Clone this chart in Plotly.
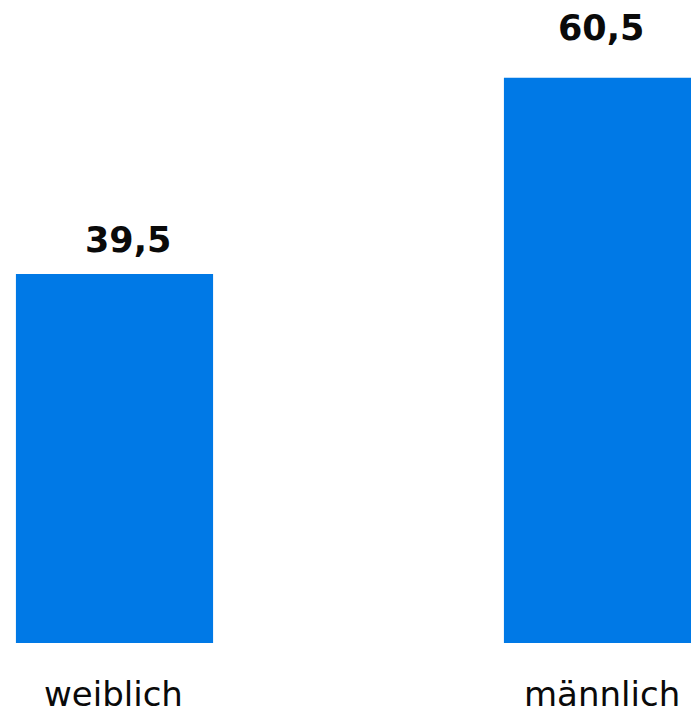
import plotly.graph_objects as go

categories = ["weiblich", "männlich"]
values = [39.5, 60.5]
value_labels = ["39,5", "60,5"]

BAR_COLOR = "#0079E6"
PX_PER_UNIT = 369 / 39.5
PLOT_H = 643

fig = go.Figure()
fig.add_trace(go.Bar(
    x=[0, 1], y=values, width=0.404,
    marker=dict(color=BAR_COLOR, line=dict(width=0)),
    hoverinfo="skip",
))

label_xshift = [13, -2]
label_yshift = [12, 28]
for i, (v, t) in enumerate(zip(values, value_labels)):
    fig.add_annotation(x=i, y=v, text=f"<b>{t}</b>", showarrow=False,
                       yanchor="bottom", yshift=label_yshift[i], xshift=label_xshift[i],
                       font=dict(family="DejaVu Sans", size=35, color="#0a0a0a"))
for i, c in enumerate(categories):
    fig.add_annotation(x=i, y=0, text=c, showarrow=False,
                       yanchor="middle", yshift=-51, xshift=-1,
                       font=dict(family="DejaVu Sans", size=34, color="#0a0a0a"))

fig.update_layout(
    width=691, height=714,
    margin=dict(l=0, r=0, t=0, b=714 - PLOT_H),
    paper_bgcolor="white", plot_bgcolor="white",
    showlegend=False,
    xaxis=dict(range=[-114.5 / 488, (691 - 114.5) / 488], visible=False, fixedrange=True),
    yaxis=dict(range=[0, PLOT_H / PX_PER_UNIT], visible=False, fixedrange=True),
)

fig.write_html("out.html")
